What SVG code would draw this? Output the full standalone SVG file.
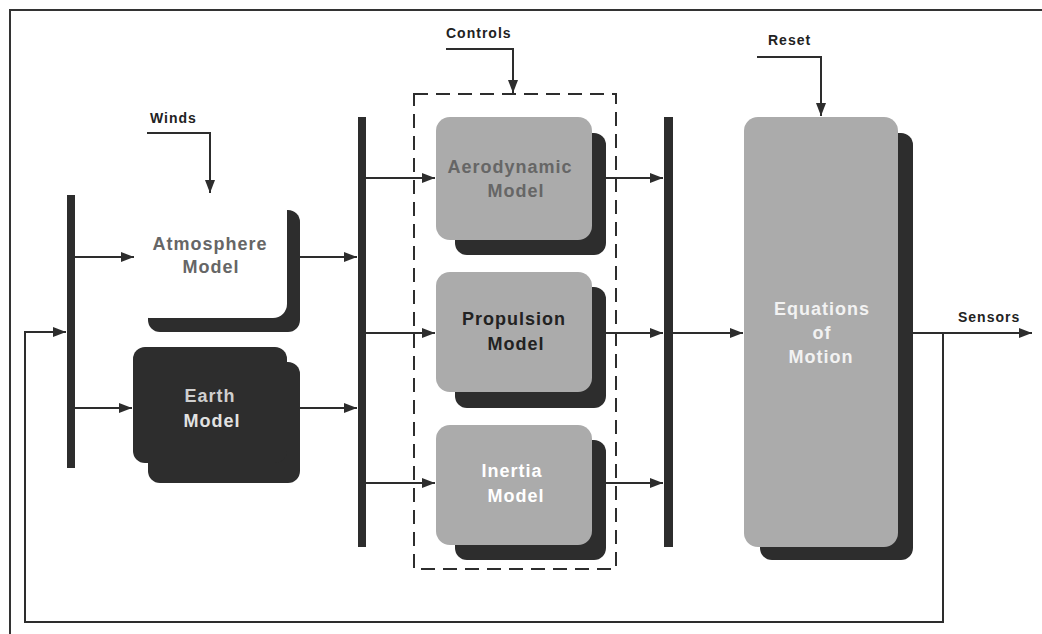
<svg xmlns="http://www.w3.org/2000/svg" width="1042" height="634" viewBox="0 0 1042 634">
<style>
.frame{fill:none;stroke:#333;stroke-width:2}
.bus{fill:#2d2d2d}
.shadow{fill:#2d2d2d}
.grey{fill:#ababab}
.white{fill:#ffffff}
.dark{fill:#2d2d2d}
.ln{fill:none;stroke:#2d2d2d;stroke-width:2}
.dash{fill:none;stroke:#2d2d2d;stroke-width:2;stroke-dasharray:14 8}
.lbl{font-family:"Liberation Sans",Arial,sans-serif;font-weight:bold;font-size:14px;letter-spacing:1px;fill:#222}
.nt{font-family:"Liberation Sans",Arial,sans-serif;font-weight:bold;font-size:18px;letter-spacing:1px;text-anchor:middle}
</style>
<defs>
<marker id="arr" markerUnits="userSpaceOnUse" markerWidth="14" markerHeight="12" refX="13" refY="5" orient="auto">
<path d="M0,0 L13,5 L0,10 z" fill="#2d2d2d"/>
</marker>
</defs>
<rect x="0" y="0" width="1042" height="634" fill="#ffffff"/>
<path class="frame" d="M10,634 V10 H1042"/>

<g id="buses">
<rect class="bus" x="67" y="195" width="8" height="273"/>
<rect class="bus" x="358" y="117" width="8" height="430"/>
<rect class="bus" x="664" y="117" width="9" height="430"/>
</g>

<g id="controls-group">
<rect class="dash" x="414" y="94" width="202" height="475"/>
</g>

<g id="atmosphere">
<rect class="shadow" x="148" y="210" width="152" height="122" rx="12"/>
<rect class="white" x="135" y="195" width="152" height="123" rx="14"/>
<text class="nt" x="210" y="250" fill="#666">Atmosphere</text>
<text class="nt" x="211" y="273" fill="#666">Model</text>
</g>

<g id="earth">
<rect class="shadow" x="148" y="362" width="152" height="121" rx="12"/>
<rect class="dark" x="133" y="347" width="154" height="116" rx="12"/>
<text class="nt" x="210" y="402" fill="#cfcfcf">Earth</text>
<text class="nt" x="212" y="427" fill="#e2e2e2">Model</text>
</g>

<g id="aerodynamic">
<rect class="shadow" x="455" y="133" width="151" height="122" rx="12"/>
<rect class="grey" x="436" y="117" width="156" height="123" rx="14"/>
<text class="nt" x="510" y="173" fill="#666">Aerodynamic</text>
<text class="nt" x="516" y="197" fill="#666">Model</text>
</g>

<g id="propulsion">
<rect class="shadow" x="455" y="287" width="151" height="121" rx="12"/>
<rect class="grey" x="436" y="272" width="156" height="120" rx="14"/>
<text class="nt" x="514" y="325" fill="#222">Propulsion</text>
<text class="nt" x="516" y="350" fill="#222">Model</text>
</g>

<g id="inertia">
<rect class="shadow" x="455" y="440" width="151" height="120" rx="12"/>
<rect class="grey" x="436" y="425" width="156" height="120" rx="14"/>
<text class="nt" x="512" y="477" fill="#ffffff">Inertia</text>
<text class="nt" x="516" y="502" fill="#ffffff">Model</text>
</g>

<g id="equations">
<rect class="shadow" x="760" y="133" width="153" height="427" rx="12"/>
<rect class="grey" x="744" y="117" width="154" height="430" rx="14"/>
<text class="nt" x="822" y="315" fill="#f2f2f2">Equations</text>
<text class="nt" x="822" y="339" fill="#f2f2f2">of</text>
<text class="nt" x="821" y="363" fill="#f2f2f2">Motion</text>
</g>

<g id="labels">
<text class="lbl" x="150" y="123">Winds</text>
<text class="lbl" x="446" y="38">Controls</text>
<text class="lbl" x="768" y="45">Reset</text>
<text class="lbl" x="958" y="322">Sensors</text>
</g>

<g id="connectors">
<path class="ln" d="M147,133 H210 V193" marker-end="url(#arr)"/>
<path class="ln" d="M446,49 H513 V93" marker-end="url(#arr)"/>
<path class="ln" d="M757,57 H821 V116" marker-end="url(#arr)"/>
<path class="ln" d="M75,257 H134" marker-end="url(#arr)"/>
<path class="ln" d="M75,408 H132" marker-end="url(#arr)"/>
<path class="ln" d="M300,257 H357" marker-end="url(#arr)"/>
<path class="ln" d="M300,408 H357" marker-end="url(#arr)"/>
<path class="ln" d="M366,178 H435" marker-end="url(#arr)"/>
<path class="ln" d="M366,333 H435" marker-end="url(#arr)"/>
<path class="ln" d="M366,483 H435" marker-end="url(#arr)"/>
<path class="ln" d="M606,178 H663" marker-end="url(#arr)"/>
<path class="ln" d="M606,333 H663" marker-end="url(#arr)"/>
<path class="ln" d="M606,483 H663" marker-end="url(#arr)"/>
<path class="ln" d="M673,333 H743" marker-end="url(#arr)"/>
<path class="ln" d="M913,333 H1032" marker-end="url(#arr)"/>
<path class="ln" d="M943,333 V622 H25 V332 H66" marker-end="url(#arr)"/>
</g>
</svg>
